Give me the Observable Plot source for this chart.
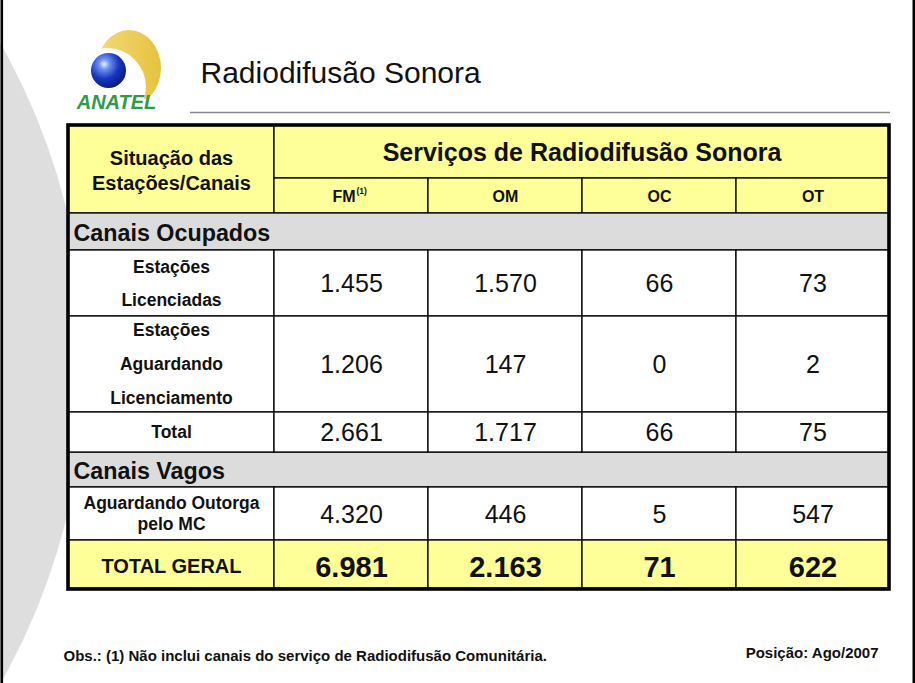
<!DOCTYPE html>
<html><head><meta charset="utf-8">
<script src="https://cdn.jsdelivr.net/npm/d3@7"></script>
<script src="https://cdn.jsdelivr.net/npm/@observablehq/plot@0.6"></script>
<style>html,body{margin:0;padding:0;background:#fff;overflow:hidden}</style>
</head><body><div id="chart"></div>
<script>
// ---------- data ----------
const title = "Radiodifusão Sonora";
const logoText = "ANATEL";
const stubHeader = ["Situação das", "Estações/Canais"];
const servicesHeader = "Serviços de Radiodifusão Sonora";
const services = ["FM", "OM", "OC", "OT"];
const footnoteMark = "(1)";
const groups = ["Canais Ocupados", "Canais Vagos"];
const rowLabels = [
  ["Estações", "Licenciadas"],
  ["Estações", "Aguardando", "Licenciamento"],
  ["Total"],
  ["Aguardando Outorga", "pelo MC"],
  ["TOTAL GERAL"]
];
const licenciadas = [1455, 1570, 66, 73];
const aguardandoLicenciamento = [1206, 147, 0, 2];
const totalOcupados = [2661, 1717, 66, 75];
const aguardandoOutorga = [4320, 446, 5, 547];
const totalGeral = [6981, 2163, 71, 622];
const footnote = "Obs.: (1) Não inclui canais do serviço de Radiodifusão Comunitária.";
const position = "Posição: Ago/2007";

// ---------- layout ----------
const W = 915, H = 683;
const colEdges = [68, 274, 428, 582, 736, 889];
const head1 = [125, 178], head2 = [178, 213];
const bands = [[213, 250], [452, 487]];
const YELLOW = "#ffff99", GRAY = "#dcdcdc", WHITE = "#ffffff";
const rowsLayout = [
  {y: [250, 316], gap: 33, fill: WHITE, lsize: 17.5, vsize: 25, bold: false, vdy: 0},
  {y: [316, 412], gap: 34, fill: WHITE, lsize: 17.5, vsize: 25, bold: false, vdy: 0},
  {y: [412, 452], gap: 0, fill: WHITE, lsize: 17.5, vsize: 25, bold: false, vdy: 0},
  {y: [487, 540], gap: 20.5, fill: WHITE, lsize: 17.5, vsize: 25, bold: false, vdy: 1},
  {y: [540, 588], gap: 0, fill: YELLOW, lsize: 20, vsize: 29, bold: true, vdy: 3}
];
const values = [licenciadas, aguardandoLicenciamento, totalOcupados, aguardandoOutorga, totalGeral];
const fmt = d3.formatLocale({decimal: ",", thousands: ".", grouping: [3], currency: ["R$", ""]}).format(",d");
const cx = i => (colEdges[i] + colEdges[i + 1]) / 2;

// cells
const cells = [];
cells.push({x1: colEdges[0], x2: colEdges[1], y1: head1[0], y2: head2[1], fill: YELLOW});
cells.push({x1: colEdges[1], x2: colEdges[5], y1: head1[0], y2: head1[1], fill: YELLOW});
services.forEach((s, i) => cells.push({x1: colEdges[i + 1], x2: colEdges[i + 2], y1: head2[0], y2: head2[1], fill: YELLOW}));
bands.forEach(b => cells.push({x1: colEdges[0], x2: colEdges[5], y1: b[0], y2: b[1], fill: GRAY}));
rowsLayout.forEach(r => {
  for (let c = 0; c < 5; c++) cells.push({x1: colEdges[c], x2: colEdges[c + 1], y1: r.y[0], y2: r.y[1], fill: r.fill});
});

// texts
const texts = [];
const T = (x, y, text, size, bold, anchor = "middle", fill = "#111") => texts.push({x, y, text, size, bold, anchor, fill});
stubHeader.forEach((t, k) => T(cx(0), 158 + k * 25, t, 20, true));
T((colEdges[1] + colEdges[5]) / 2, 152.5, servicesHeader, 25, true);
services.forEach((s, i) => {
  if (i === 0) {
    T(cx(1) + 4, 196, s, 16, true, "end");
    T(cx(1) + 5, 191, footnoteMark, 8.5, true, "start");
  } else T(cx(i + 1), 196, s, 16, true);
});
T(73, 233, groups[0], 23.3, true, "start");
T(73, 471, groups[1], 23.3, true, "start");
rowsLayout.forEach((r, ri) => {
  const mid = (r.y[0] + r.y[1]) / 2;
  const lines = rowLabels[ri];
  lines.forEach((l, k) => T(cx(0), mid + (k - (lines.length - 1) / 2) * r.gap + (ri === 4 ? 2 : 0), l, r.lsize, true));
  values[ri].forEach((v, c) => T(cx(c + 1), mid + r.vdy, fmt(v), r.vsize, r.bold));
});
T(200, 72.5, title, 30, false, "start");
T(63, 655.5, footnote, 15, true, "start");
T(878, 652.5, position, 15, true, "end");

const textMark = (anchor, bold) => Plot.text(texts.filter(d => d.anchor === anchor && d.bold === bold), {
  x: "x", y: "y", text: "text", fontSize: "size", fill: "fill",
  textAnchor: anchor, lineAnchor: "middle", fontWeight: bold ? "bold" : "normal"
});

const plot = Plot.plot({
  width: W, height: H, margin: 0,
  style: {fontFamily: "'Liberation Sans', Arial, sans-serif", background: "#fff", overflow: "visible"},
  x: {domain: [0, W], range: [0, W], axis: null},
  y: {domain: [0, H], range: [0, H], axis: null},
  color: {type: "identity"},
  marks: [
    // background swoosh
    Plot.dot([{x: -563, y: 363}], {x: "x", y: "y", r: 647.6, fill: "#dedede", stroke: null}),
    // page edge lines
    Plot.ruleX([1.3], {stroke: "#000", strokeWidth: 2.6}),
    Plot.ruleX([913.5], {stroke: "#000", strokeWidth: 3}),
    // title underline
    Plot.ruleY([112], {x1: 190, x2: 890, stroke: "#8a8a8a", strokeWidth: 1.5}),
    // table cells
    Plot.rect(cells, {x1: "x1", x2: "x2", y1: "y1", y2: "y2", fill: "fill", stroke: "#000", strokeWidth: 1.3}),
    Plot.rect([{}], {x1: colEdges[0], x2: colEdges[5], y1: head1[0], y2: 589, fill: "none", stroke: "#000", strokeWidth: 3.6}),
    // logo sphere
    Plot.dot([{x: 108, y: 70}], {x: "x", y: "y", r: 17.5, fill: "url(#sphereGrad)", stroke: null}),
    Plot.text([logoText], {x: 116, y: 102, text: d => d, fontSize: 20, fontWeight: "bold", fontStyle: "italic", fill: "#2e9b46", textAnchor: "middle", lineAnchor: "middle"}),
    textMark("middle", true),
    textMark("middle", false),
    textMark("start", true),
    textMark("start", false),
    textMark("end", true)
  ]
});
document.getElementById("chart").appendChild(plot);

// decorative logo crescent + gradient defs
const svg = d3.select(plot);
const defs = svg.insert("defs", ":first-child");
const rg = defs.append("radialGradient").attr("id", "sphereGrad").attr("cx", "38%").attr("cy", "32%").attr("r", "70%");
rg.append("stop").attr("offset", "0%").attr("stop-color", "#e8f0ff");
rg.append("stop").attr("offset", "22%").attr("stop-color", "#6d8ff0");
rg.append("stop").attr("offset", "60%").attr("stop-color", "#1736c0");
rg.append("stop").attr("offset", "100%").attr("stop-color", "#0a1a80");
const yg = defs.append("linearGradient").attr("id", "crescGrad").attr("x1", "0").attr("y1", "0").attr("x2", "1").attr("y2", "0");
yg.append("stop").attr("offset", "0%").attr("stop-color", "#f3da7a");
yg.append("stop").attr("offset", "100%").attr("stop-color", "#e6c23d");
const mask = defs.append("mask").attr("id", "crescMask");
mask.append("rect").attr("x", 80).attr("y", 20).attr("width", 100).attr("height", 79).attr("fill", "#fff");
mask.append("circle").attr("cx", 107).attr("cy", 87).attr("r", 39).attr("fill", "#000");
const sphereNode = svg.selectAll("g[aria-label='dot']").nodes()[1];
svg.insert("ellipse", () => sphereNode)
  .attr("cx", 129).attr("cy", 68).attr("rx", 32).attr("ry", 38)
  .attr("fill", "url(#crescGrad)").attr("mask", "url(#crescMask)");
</script>
</body></html>
